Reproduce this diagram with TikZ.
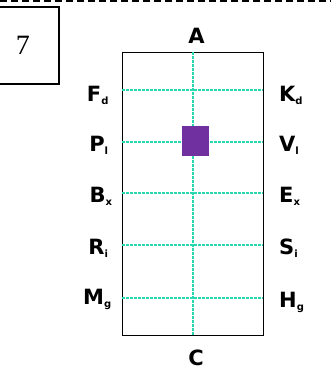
\documentclass[tikz,border=0pt]{standalone}
\usepackage{fontspec}
\setmainfont{DejaVu Sans}
\definecolor{gridc}{RGB}{40,215,175}
\definecolor{purp}{RGB}{112,48,160}
\newcommand{\mysub}[1]{\textsubscript{\fontsize{10}{10}\selectfont #1}}
\begin{document}
\begin{tikzpicture}[x=1pt,y=-1pt,
  grid/.style={draw=gridc, line width=1.1pt, dash pattern=on 2.5pt off 1.5pt},
  lbl/.style={font=\fontsize{21}{21}\selectfont\bfseries, inner sep=0pt},
  lbll/.style={lbl, anchor=center},
  lblr/.style={lbl, anchor=west},
]
\useasboundingbox (0,0) rectangle (331,376);
% top dashed border
\draw[line width=2.5pt, dash pattern=on 7pt off 4pt] (0,0.5) -- (331,0.5);
% box 7
\node[draw, line width=2pt, minimum width=64pt, minimum height=77pt, anchor=north east, inner sep=0pt] (box7) at (60,6) {};
\node[font=\fontsize{28}{28}\selectfont, inner sep=0pt] (seven) at (23,45) {\fontspec{Liberation Serif}7};
% main rectangle
\node[draw, line width=1.2pt, minimum width=141pt, minimum height=283pt, inner sep=0pt, anchor=north west] (R) at (122,52) {};
% grid lines
\foreach \yy/\nm in {90/f,142/p,193/b,245/r,298/m} {
  \coordinate (L\nm) at (122,\yy);
  \coordinate (R\nm) at (263,\yy);
  \draw[grid] (L\nm) -- (R\nm);
}
\coordinate (top) at (193,52);
\coordinate (bot) at (193,335);
\draw[grid] (top) -- (bot);
% purple square
\node[fill=purp, minimum width=27pt, minimum height=30pt, inner sep=0pt, anchor=north west] (sq) at (182,126) {};
% labels
\node[lbl] (A) at (196.5,35.5) {A};
\node[lbl] (C) at (196,358) {C};
\node[lbll] (F) at (98,95) {F\mysub{d}};
\node[lbll] (P) at (99,145) {P\mysub{l}};
\node[lbll] (B) at (101,196) {B\mysub{x}};
\node[lbll] (Ri) at (98.5,248) {R\mysub{i}};
\node[lbll] (M) at (97.5,299) {M\mysub{g}};
\node[lblr] (K) at (279,95) {K\mysub{d}};
\node[lblr] (V) at (279,145) {V\mysub{l}};
\node[lblr] (E) at (279,196) {E\mysub{x}};
\node[lblr] (S) at (279,248) {S\mysub{i}};
\node[lblr] (H) at (279,302) {H\mysub{g}};
\end{tikzpicture}
\end{document}
